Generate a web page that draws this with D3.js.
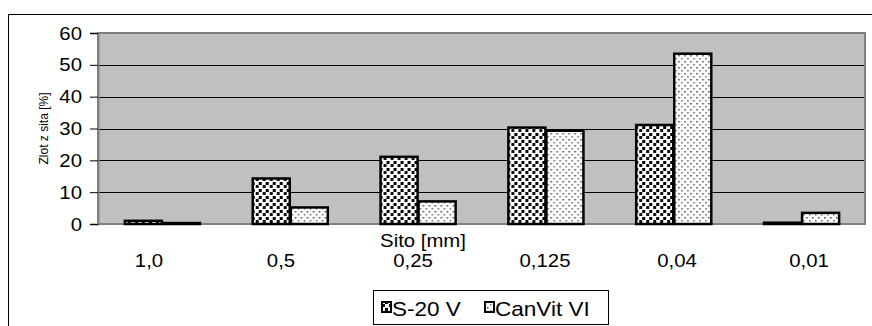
<!DOCTYPE html>
<html>
<head>
<meta charset="utf-8">
<script src="https://cdn.jsdelivr.net/npm/d3@7"></script>
<style>
  body { margin: 0; background: #fff; }
  svg { display: block; font-family: Arial, "Liberation Sans", sans-serif; }
</style>
</head>
<body>
<div id="chart"></div>
<script>
// dane
const categories = ['1,0', '0,5', '0,25', '0,125', '0,04', '0,01'];
const seriesNames = ['S-20 V', 'CanVit VI'];
const s20 = [1.0, 14.3, 21.1, 30.3, 31.1, 0.4];
const canvit = [0.3, 5.2, 7.1, 29.3, 53.5, 3.5];
const yTicks = [0, 10, 20, 30, 40, 50, 60];

const width = 872, height = 326;
const plot = { left: 98, right: 865, top: 33, bottom: 224 };
const stretch = 1.1; // tekst w oryginale jest lekko rozciągnięty w poziomie

const svg = d3.select('#chart').append('svg')
  .attr('width', width)
  .attr('height', height);

// tekst z poziomym rozciągnięciem
function label(parent, x, y, txt, size, anchor) {
  return parent.append('g')
    .attr('transform', `translate(${x},${y}) scale(${stretch},1)`)
    .append('text')
    .attr('text-anchor', anchor || 'middle')
    .attr('font-size', size)
    .attr('fill', '#000')
    .text(txt);
}

// wzory wypełnienia
const defs = svg.append('defs');
const p1 = defs.append('pattern')
  .attr('id', 'pat-s20')
  .attr('patternUnits', 'userSpaceOnUse')
  .attr('width', 7).attr('height', 7);
p1.append('rect').attr('width', 7).attr('height', 7).attr('fill', '#fff');
p1.append('rect').attr('x', 0).attr('y', 0).attr('width', 3).attr('height', 3).attr('fill', '#000');
p1.append('rect').attr('x', 4).attr('y', 3).attr('width', 3).attr('height', 3).attr('fill', '#111');

const p2 = defs.append('pattern')
  .attr('id', 'pat-canvit')
  .attr('patternUnits', 'userSpaceOnUse')
  .attr('width', 6).attr('height', 6);
p2.append('rect').attr('width', 6).attr('height', 6).attr('fill', '#fff');
p2.append('rect').attr('x', 1).attr('y', 1).attr('width', 1.5).attr('height', 1.5).attr('fill', '#444');
p2.append('rect').attr('x', 4).attr('y', 4).attr('width', 1.5).attr('height', 1.5).attr('fill', '#666');

const fills = ['url(#pat-s20)', 'url(#pat-canvit)'];

// ramka całego wykresu
svg.append('rect')
  .attr('x', 8.5).attr('y', 14.5)
  .attr('width', 900).attr('height', 400)
  .attr('fill', 'none')
  .attr('stroke', '#000');

const x = d3.scaleBand()
  .domain(categories)
  .range([plot.left, plot.right])
  .paddingInner(0.405)
  .paddingOuter(0.2025);

// etykiety kategorii są w oryginale rozstawione nieco szerzej niż słupki
const xLabel = d3.scalePoint()
  .domain(categories)
  .range([149, 809]);

const xs = d3.scaleBand()
  .domain(seriesNames)
  .range([0, x.bandwidth()]);

const y = d3.scaleLinear()
  .domain([0, 60])
  .range([plot.bottom, plot.top]);

// tło obszaru wykresu
svg.append('rect')
  .attr('x', plot.left).attr('y', plot.top)
  .attr('width', plot.right - plot.left)
  .attr('height', plot.bottom - plot.top)
  .attr('fill', '#c0c0c0');

// linie siatki
svg.append('g')
  .selectAll('line')
  .data(yTicks.filter(t => t > 0 && t < 60))
  .join('line')
  .attr('x1', plot.left).attr('x2', plot.right)
  .attr('y1', d => Math.round(y(d)) + 0.5)
  .attr('y2', d => Math.round(y(d)) + 0.5)
  .attr('stroke', '#000')
  .attr('stroke-width', 1);

// obramowanie obszaru
svg.append('rect')
  .attr('x', plot.left).attr('y', plot.top)
  .attr('width', plot.right - plot.left)
  .attr('height', plot.bottom - plot.top)
  .attr('fill', 'none')
  .attr('stroke', '#808080')
  .attr('stroke-width', 2);

// słupki
const data = categories.map((c, i) => ({ cat: c, vals: [s20[i], canvit[i]] }));
const groups = svg.append('g')
  .selectAll('g')
  .data(data)
  .join('g')
  .attr('transform', d => `translate(${x(d.cat)},0)`);

groups.selectAll('rect')
  .data(d => d.vals.map((v, k) => ({ v, k })))
  .join('rect')
  .attr('x', d => xs(seriesNames[d.k]) + 1)
  .attr('y', d => y(d.v))
  .attr('width', xs.bandwidth() - 1)
  .attr('height', d => y(0) - y(d.v))
  .attr('fill', d => fills[d.k])
  .attr('stroke', '#000')
  .attr('stroke-width', 2.5);

// oś Y
const yAxis = svg.append('g')
  .attr('transform', `translate(${plot.left},0)`)
  .call(d3.axisLeft(y).tickValues(yTicks).tickSize(8).tickFormat(''));
yAxis.select('.domain').attr('stroke', '#808080').attr('stroke-width', 2);
yAxis.selectAll('.tick line').attr('stroke', '#000');

const yLabels = svg.append('g');
yTicks.forEach(t => label(yLabels, 82, y(t) + 6.5, d3.format('d')(t), 18.5, 'end'));

svg.append('text')
  .attr('transform', `translate(48,${(plot.top + plot.bottom) / 2}) rotate(-90)`)
  .attr('text-anchor', 'middle')
  .attr('font-size', 12)
  .text('Zlot z sita [%]');

// etykiety kategorii
const xLabels = svg.append('g');
categories.forEach(c => label(xLabels, xLabel(c), 267, c, 18.5));

label(svg, 423, 247, 'Sito [mm]', 18.5);

// legenda
const legend = svg.append('g');
legend.append('rect')
  .attr('x', 373.5).attr('y', 290.5)
  .attr('width', 235).attr('height', 34)
  .attr('fill', '#fff')
  .attr('stroke', '#000');

const legendItems = [
  { name: seriesNames[0], fill: fills[0], x: 382 },
  { name: seriesNames[1], fill: fills[1], x: 485 }
];
legendItems.forEach(d => {
  legend.append('rect')
    .attr('x', d.x).attr('y', 302)
    .attr('width', 9).attr('height', 10)
    .attr('fill', d.fill)
    .attr('stroke', '#000')
    .attr('stroke-width', 2);
  label(legend, d.x + 10, 316, d.name, 20.5, 'start');
});
</script>
</body>
</html>
